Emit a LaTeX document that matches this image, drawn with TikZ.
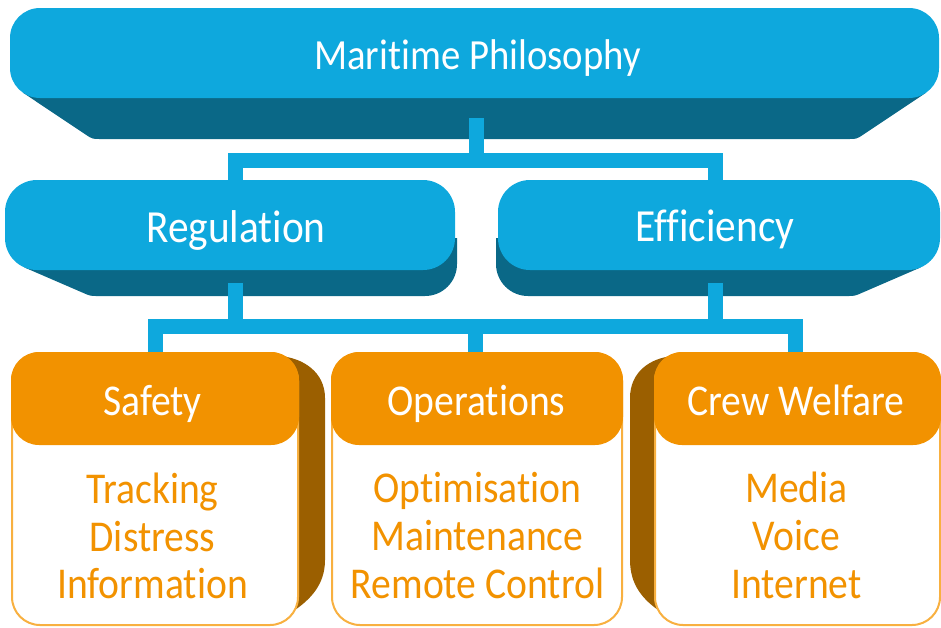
\documentclass[tikz,border=0pt]{standalone}
\usepackage{fontspec}
\setmainfont{Carlito}[FakeStretch=0.9,Ligatures=NoCommon]
\usetikzlibrary{backgrounds}
\definecolor{lblue}{HTML}{0EA8DD}
\definecolor{dblue}{HTML}{0A6887}
\definecolor{orng}{HTML}{F29200}
\definecolor{brwn}{HTML}{9B5F00}
\definecolor{lorng}{HTML}{F8B040}
\begin{document}
\begin{tikzpicture}[x=1pt,y=-1pt,
  bluebox/.style={fill=lblue, rounded corners=30pt, inner sep=0pt, outer sep=0pt},
  conn/.style={draw=lblue, line width=15pt, line join=miter},
  obox/.style={fill=white, draw=lorng, line width=2pt, rounded corners=28pt, inner sep=0pt},
  ohead/.style={fill=orng, rounded corners=28pt, inner sep=0pt},
  toplbl/.style={text=white, font=\fontsize{43}{50}\selectfont, anchor=base, inner sep=0pt},
  midlbl/.style={text=white, font=\fontsize{46}{55}\selectfont, anchor=base, inner sep=0pt},
  headlbl/.style={text=white, font=\fontsize{44}{52}\selectfont, anchor=base, inner sep=0pt},
  bodylbl/.style={text=orng, font=\fontsize{44}{52}\selectfont, anchor=base, inner sep=0pt},
]
\useasboundingbox (0,0) rectangle (941,627);

% blue boxes
\node[bluebox, minimum width=929pt, minimum height=90pt] (top) at (474.5,53) {};
\node[bluebox, rounded corners=32pt, minimum width=450pt, minimum height=90pt] (reg) at (230,225) {};
\node[bluebox, rounded corners=32pt, minimum width=442pt, minimum height=90pt] (eff) at (719,225) {};

% orange boxes
\node[obox, minimum width=286pt, minimum height=272pt] (saf) at (155,489) {};
\node[ohead, minimum width=288pt, minimum height=93pt] (safh) at (155,398.5) {};
\node[obox, minimum width=290pt, minimum height=272pt] (ops) at (477,489) {};
\node[ohead, minimum width=292pt, minimum height=93pt] (opsh) at (477,398.5) {};
\node[obox, minimum width=285pt, minimum height=272pt] (crw) at (797.5,489) {};
\node[ohead, minimum width=287pt, minimum height=93pt] (crwh) at (797.5,398.5) {};

% labels
\node[toplbl] (t0) at (477.5,69) {Maritime Philosophy};
\node[midlbl] (t1) at (236,242) {Regulation};
\node[midlbl] (t2) at (715,241) {Efficiency};
\node[headlbl] (t3) at (152.5,415) {Safety};
\node[headlbl] (t4) at (476.5,415) {Operations};
\node[headlbl] (t5) at (796,415) {Crew Welfare};

\node[bodylbl] (s1) at (152.5,503) {Tracking};
\node[bodylbl] (s2) at (152.5,551) {Distress};
\node[bodylbl] (s3) at (152.5,598) {Information};
\node[bodylbl] (o1) at (477.5,502) {Optimisation};
\node[bodylbl] (o2) at (477.5,550) {Maintenance};
\node[bodylbl] (o3) at (477.5,598) {Remote Control};
\node[bodylbl] (c1) at (796.5,502) {Media};
\node[bodylbl] (c2) at (796.5,550) {Voice};
\node[bodylbl] (c3) at (796.5,598) {Internet};

% connector coordinates
\coordinate (regx) at (235.5,0);
\coordinate (effx) at (715.5,0);
\coordinate (safx) at (155.5,0);
\coordinate (opsx) at (475.5,0);
\coordinate (crwx) at (795.5,0);
\coordinate (barA) at (0,160);
\coordinate (barB) at (0,326.5);
\coordinate (stemT) at (476.5,118);
\coordinate (stemR) at (0,283);

\begin{pgfonlayer}{background}
  % 3D sides
  \fill[dblue] (23.4,93) -- (85.7,134.6) .. controls (92.4,139) .. (100.4,139)
     -- (848.6,139) .. controls (856.6,139) .. (863.3,134.6) -- (925.6,93) -- cycle;
  \fill[dblue] (24.3,267.4) -- (83,292.8) .. controls (90.3,296) .. (98.3,296)
     -- (425,296) .. controls (442.7,296) and (457,281.7) .. (457,264)
     -- (457,238) -- (37,238) -- cycle;
  \fill[dblue] (496,238) -- (496,264) .. controls (496,281.7) and (510.3,296) .. (528,296)
     -- (846.7,296) .. controls (854.7,296) .. (862,292.8) -- (920.7,267.4) -- (908,238) -- cycle;
  \fill[brwn] (280,356) .. controls (303,358) and (325,372) .. (325,398)
     -- (325,560) .. controls (325,585) and (310,600) .. (292,612) -- (280,600) -- cycle;
  \fill[brwn] (673,356) .. controls (650,358) and (630,372) .. (630,398)
     -- (630,560) .. controls (630,585) and (643,600) .. (661,612) -- (673,600) -- cycle;
  % connectors
  \draw[conn] (stemT) -- (stemT |- barA);
  \draw[conn] (regx |- reg.center) -- (regx |- barA) -- (effx |- barA) -- (effx |- eff.center);
  \draw[conn] (regx |- stemR) -- (regx |- barB);
  \draw[conn] (effx |- stemR) -- (effx |- barB);
  \draw[conn] (safx |- saf.center) -- (safx |- barB) -- (crwx |- barB) -- (crwx |- crw.center);
  \draw[conn] (opsx |- barB) -- (opsx |- ops.center);
\end{pgfonlayer}
\end{tikzpicture}
\end{document}
